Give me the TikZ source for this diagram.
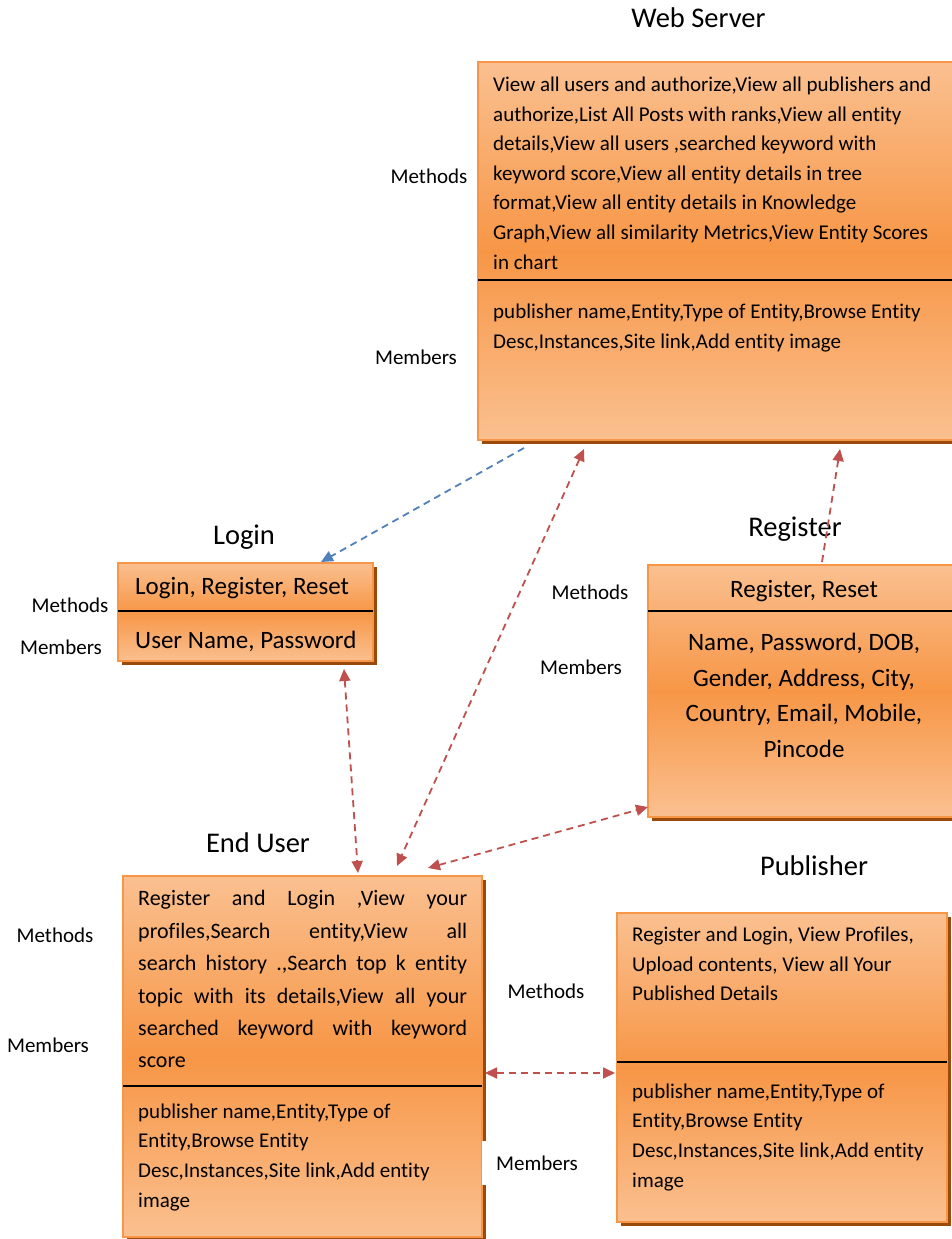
\documentclass[tikz,border=0pt]{standalone}
\usepackage{fontspec}
\setmainfont{Carlito}[Ligatures={NoCommon},RawFeature={-liga;-clig;-calt}]
\usetikzlibrary{arrows.meta,shadows,calc}
\definecolor{olight}{HTML}{FAC090}
\definecolor{odark}{HTML}{F79646}
\definecolor{oborder}{HTML}{F79646}
\definecolor{oshadow}{HTML}{9A4A0A}
\definecolor{ared}{HTML}{C0504D}
\definecolor{ablue}{HTML}{4F81BD}
\newcommand\fsz[1]{\fontsize{#1pt}{#1pt}\selectfont}
\begin{document}
\begin{tikzpicture}[x=1pt,y=-1pt,
  umlbox/.style={draw=oborder, line width=2pt, top color=olight, bottom color=olight, middle color=odark, inner sep=0pt,
    drop shadow={shadow xshift=3.5pt, shadow yshift=-3.5pt, fill=oshadow, opacity=1}},
  sepline/.style={draw=black, line width=1.8pt},
  lbl/.style={font=\fsz{21}, inner sep=0pt},
  ttl/.style={font=\fsz{28.5}, inner sep=0pt, anchor=base},
  body/.style={font=\fsz{21}, inner sep=0pt, anchor=base west},
  bigbody/.style={font=\fsz{25}, inner sep=0pt},
  eubody/.style={font=\fsz{22}, inner sep=0pt, anchor=base west},
  conn/.style={dash pattern=on 7pt off 5pt, line width=1.8pt},
  redboth/.style={conn, draw=ared, {Triangle[length=12pt,width=11pt,fill=ared]}-{Triangle[length=12pt,width=11pt,fill=ared]}},
  redone/.style={conn, draw=ared, -{Triangle[length=12pt,width=11pt,fill=ared]}},
  blueone/.style={conn, draw=ablue, -{Triangle[length=12pt,width=11pt,fill=ablue]}}
]
\useasboundingbox[fill=white] (0,0) rectangle (951,1239);

% ---------- boxes ----------
\node[umlbox, minimum width=479pt, minimum height=378pt] (ws) at (717.5,251) {};
\node[umlbox, minimum width=255pt, minimum height=98pt] (login) at (245.5,612) {};
\node[umlbox, minimum width=309pt, minimum height=252pt] (reg) at (802.5,691) {};
\node[umlbox, minimum width=359pt, minimum height=361pt] (eu) at (302.5,1056.5) {};
\node[umlbox, minimum width=330pt, minimum height=309pt] (pub) at (782,1067.5) {};

% ---------- separators ----------
\draw[sepline] ($(ws.north west)+(1,219)$) -- ($(ws.north east)+(-1,219)$);
\draw[sepline] ($(login.north west)+(1,49)$) -- ($(login.north east)+(-1,49)$);
\draw[sepline] ($(reg.north west)+(1,47)$) -- ($(reg.north east)+(-1,47)$);
\draw[sepline] ($(eu.north west)+(1,211)$) -- ($(eu.north east)+(-1,211)$);
\draw[sepline] ($(pub.north west)+(1,150)$) -- ($(pub.north east)+(-1,150)$);

% ---------- titles ----------
\node[ttl] (t-ws) at (698.5,28) {Web Server};
\node[ttl] (t-login) at (244,544) {Login};
\node[ttl] (t-reg) at (795,536) {Register};
\node[ttl] (t-eu) at (258,852) {End User};
\node[ttl] (t-pub) at (814,875) {Publisher};

% ---------- side labels ----------
\node[lbl] (l-ws-me) at (429,176) {Methods};
\node[lbl] (l-ws-mb) at (416,357) {Members};
\node[lbl] (l-lg-me) at (70,605) {Methods};
\node[lbl] (l-lg-mb) at (61,647) {Members};
\node[lbl] (l-rg-me) at (590,592) {Methods};
\node[lbl] (l-rg-mb) at (581,667) {Members};
\node[lbl] (l-eu-me) at (55,935) {Methods};
\node[lbl] (l-eu-mb) at (48,1045) {Members};
\node[lbl] (l-pb-me) at (546,991) {Methods};
\node[lbl, fill=white, minimum width=110pt, minimum height=44pt] (l-pb-mb) at (537,1163) {Members};

% ---------- Web Server text ----------
\foreach \t [count=\i] in {{View all users and authorize,View all publishers and},
  {authorize,List All Posts with ranks,View all entity},
  {details,View all users ,searched keyword with},
  {keyword score,View all entity details in tree},
  {format,View all entity details in Knowledge},
  {Graph,View all similarity Metrics,View Entity Scores},
  {in chart}}
  \node[body] (ws-m\i) at (493,{91.5+29.6*(\i-1)}) {\t};
\foreach \t [count=\i] in {{publisher name,Entity,Type of Entity,Browse Entity},
  {Desc,Instances,Site link,Add entity image}}
  \node[body] (ws-b\i) at (493,{318.5+29.6*(\i-1)}) {\t};

% ---------- Login text ----------
\node[bigbody, anchor=base west] (lg-m) at (135,594) {Login, Register, Reset};
\node[bigbody, anchor=base west] (lg-b) at (135,648) {User Name, Password};

% ---------- Register text ----------
\node[bigbody, anchor=base] (rg-m) at (804,597.5) {Register, Reset};
\foreach \t [count=\i] in {{Name, Password, DOB,},{Gender, Address, City,},{Country, Email, Mobile,},{Pincode}}
  \node[bigbody, anchor=base] (rg-b\i) at (804,{650.5+35.7*(\i-1)}) {\t};

% ---------- End User text ----------
\foreach \t [count=\i] in {{Register and Login ,View your},
  {profiles,Search entity,View all},
  {search history .,Search top k entity},
  {topic with its details,View all your},
  {searched keyword with keyword}}
  \node[eubody] (eu-m\i) at (138,{905.8+32.4*(\i-1)}) {\makebox[329pt][s]{\t}};
\node[eubody] (eu-m6) at (138,1067.8) {score};
\foreach \t [count=\i] in {{publisher name,Entity,Type of},
  {Entity,Browse Entity},
  {Desc,Instances,Site link,Add entity},
  {image}}
  \node[body] (eu-b\i) at (138,{1118.3+29.6*(\i-1)}) {\t};

% ---------- Publisher text ----------
\foreach \t [count=\i] in {{Register and Login, View Profiles,},
  {Upload contents, View all Your},
  {Published Details}}
  \node[body] (pb-m\i) at (632,{941.5+29.6*(\i-1)}) {\t};
\foreach \t [count=\i] in {{publisher name,Entity,Type of},
  {Entity,Browse Entity},
  {Desc,Instances,Site link,Add entity},
  {image}}
  \node[body] (pb-b\i) at (632,{1098.3+29.6*(\i-1)}) {\t};

% ---------- connectors ----------
\draw[blueone] ($(ws.south west)+(47,7)$) -- ($(login.north west)+(204,0)$);
\draw[redboth] ($(login.south west)+(227,7)$) -- ($(eu.north west)+(236,-2)$);
\draw[redboth] ($(ws.south west)+(107,8)$) -- ($(eu.north west)+(275,-9)$);
\draw[redone] ($(reg.north west)+(175,-2)$) -- ($(ws.south west)+(363,8)$);
\draw[redboth] ($(eu.north west)+(306,-7)$) -- ($(reg.south west)+(1,-11)$);
\draw[redboth] ($(eu.east)+(2,16.5)$) -- ($(pub.west)+(-1,5.5)$);
\end{tikzpicture}
\end{document}
